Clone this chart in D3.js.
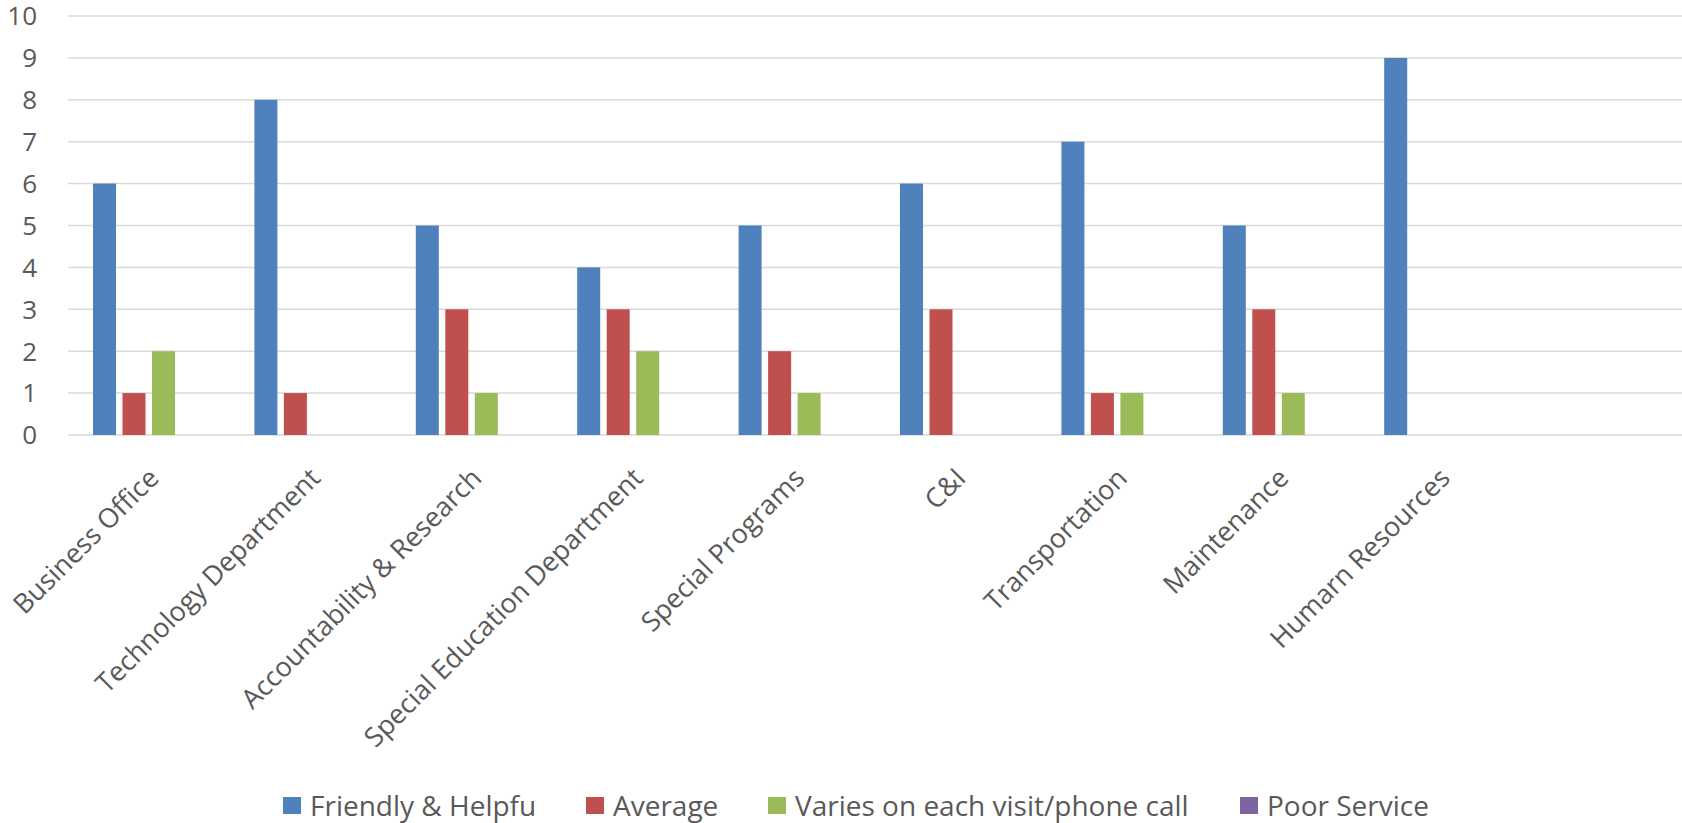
<!DOCTYPE html>
<html>
<head>
<meta charset="utf-8">
<script src="https://cdn.jsdelivr.net/npm/d3@7"></script>
<style>
  body { margin: 0; background: #fff; }
  text { font-family: "Open Sans", sans-serif; fill: #595959; }
</style>
</head>
<body>
<svg id="chart" width="1682" height="823"></svg>
<script>
// departments (the last slot is empty in the original sheet)
const departments = ["Business Office", "Technology Department", "Accountability & Research",
  "Special Education Department", "Special Programs", "C&I", "Transportation",
  "Maintenance", "Humarn Resources", ""];
const seriesNames = ["Friendly & Helpfu", "Average", "Varies on each visit/phone call", "Poor Service"];
const friendly = [6, 8, 5, 4, 5, 6, 7, 5, 9, null];
const average  = [1, 1, 3, 3, 2, 3, 1, 3, null, null];
const varies   = [2, null, 1, 2, 1, null, 1, 1, null, null];
const poor     = [null, null, null, null, null, null, null, null, null, null];
const yTicks = [0, 1, 2, 3, 4, 5, 6, 7, 8, 9, 10];
const colors = ["#4F81BD", "#C0504D", "#9BBB59", "#8064A2"];

const allSeries = [friendly, average, varies, poor];

const svg = d3.select("#chart");
const plotLeft = 68, plotRight = 1682, plotTop = 16, plotBottom = 435;

const x = d3.scaleBand().domain(departments).range([plotLeft, plotRight]);
const x1 = d3.scaleBand().domain(seriesNames)
  .range([25, 25 + 111.5]).paddingInner(0.22).paddingOuter(0);
const y = d3.scaleLinear().domain([0, 10]).range([plotBottom, plotTop]);

// gridlines
svg.append("g")
  .selectAll("line")
  .data(yTicks)
  .join("line")
  .attr("x1", plotLeft).attr("x2", plotRight)
  .attr("y1", d => y(d)).attr("y2", d => y(d))
  .attr("stroke", "#d9d9d9")
  .attr("stroke-width", 1.5);

// y labels
svg.append("g")
  .selectAll("text")
  .data(yTicks)
  .join("text")
  .attr("x", 37)
  .attr("y", d => y(d))
  .attr("dy", "0.36em")
  .attr("text-anchor", "end")
  .style("font-size", "26px")
  .text(d => d);

// bars
const groups = svg.append("g")
  .selectAll("g")
  .data(departments)
  .join("g")
  .attr("transform", d => `translate(${x(d)},0)`);

groups.selectAll("rect")
  .data((d, i) => seriesNames.map((s, j) => ({ s, v: allSeries[j][i], c: colors[j] })).filter(d => d.v != null))
  .join("rect")
  .attr("x", d => x1(d.s))
  .attr("y", d => y(d.v))
  .attr("width", x1.bandwidth())
  .attr("height", d => y(0) - y(d.v))
  .attr("fill", d => d.c);

// x labels, rotated
svg.append("g")
  .selectAll("text")
  .data(departments)
  .join("text")
  .attr("transform", d => `translate(${x(d) + x.bandwidth() / 2 + 5},${plotBottom + 38}) rotate(-45)`)
  .attr("text-anchor", "end")
  .attr("dy", "0.35em")
  .style("font-size", "27px")
  .text(d => d);

// legend
const legendX = [283, 586, 768, 1240];
const legend = svg.append("g")
  .selectAll("g")
  .data(seriesNames)
  .join("g")
  .attr("transform", (d, i) => `translate(${legendX[i]},797)`);

legend.append("rect")
  .attr("width", 18).attr("height", 17)
  .attr("fill", (d, i) => colors[i]);

legend.append("text")
  .attr("x", 27)
  .attr("y", 19)
  .style("font-size", "28px")
  .text(d => d);
</script>
</body>
</html>
